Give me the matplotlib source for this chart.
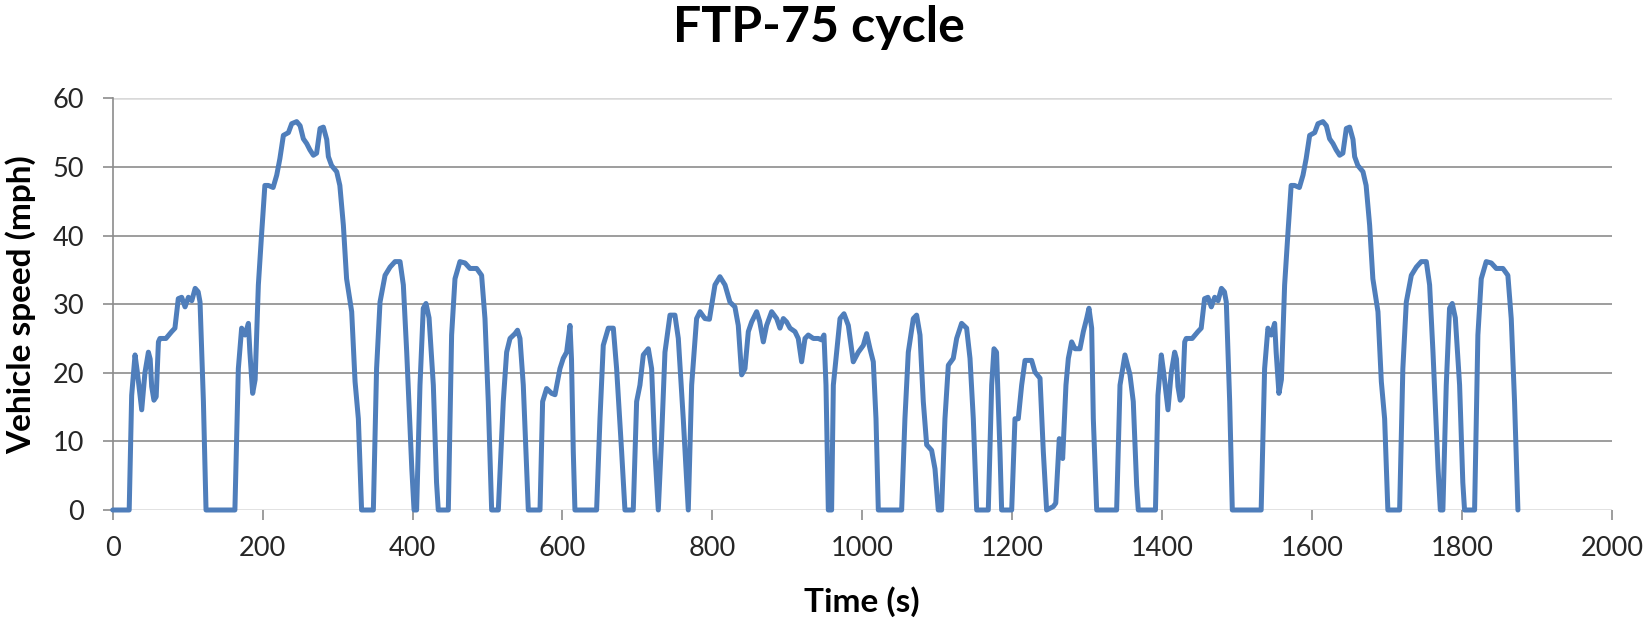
import matplotlib
matplotlib.use("Agg")
import matplotlib.pyplot as plt
import numpy as np

# ---- data (time in s, speed in mph) ----
cold_time = [0, 22, 25.3, 29.8, 33, 38.7, 43, 47.6, 50, 52, 55, 58, 61, 63, 71, 78.7, 83, 87.5, 92, 96.5,
             101, 105.5, 110, 114, 116.5, 121, 124.5, 163, 167.6, 172, 176.5, 181, 183, 186.7, 190, 194.3,
             198.8, 203, 207.5, 214, 218.8, 223, 227.7, 234.4, 238.8, 245.4, 250, 254.3, 258.8, 263, 267.7,
             272, 276.6, 281, 285.5, 287.7, 292, 298.8, 303, 307.7, 312, 318.8, 323.3, 327.7, 332, 347.7,
             352, 356.6, 363.3, 370, 376.6, 383.3, 387.7, 392.2, 399, 402, 405.4, 409.9, 414.3, 417.9, 422,
             427.7, 432, 434.3, 447.7, 452.1, 456.6, 463.2, 470, 476.6, 485.5, 492.1, 496.6, 501, 505.5]
cold_speed = [0, 0, 16.7, 22.6, 20, 14.6, 20, 23, 22, 18, 16, 16.5, 24.5, 25, 25, 26, 26.5, 30.8, 31, 29.6,
              31, 30.5, 32.3, 31.8, 30.3, 15.8, 0, 0, 20.6, 26.5, 25.5, 27.2, 23, 17, 19, 32.8,
              40.5, 47.3, 47.3, 47, 48.8, 51.2, 54.6, 55, 56.3, 56.6, 56, 54.1, 53.4, 52.5, 51.7,
              52, 55.6, 55.8, 54, 51.5, 50.2, 49.3, 47.3, 41.5, 33.7, 28.9, 18.7, 13.3, 0, 0,
              20.6, 30.3, 34.2, 35.4, 36.2, 36.2, 32.8, 23, 6, 0, 0, 18.2, 29.4, 30.1, 28,
              18.2, 4, 0, 0, 25.5, 33.7, 36.2, 36, 35.2, 35.2, 34.2, 27.9, 15.8, 0]

stab_time = [514.4, 521, 525.5, 530, 536.6, 540, 543.3, 547.7, 552.2, 554.4,
             570, 573.5, 578.8, 585.5, 590, 596.6, 601, 605.5, 610, 612, 614.4, 616.6,
             645.5, 650, 654.4, 661.1, 667.8, 672.2, 678.9, 683.3,
             694.4, 698.9, 703.3, 707.8, 714.5, 718.9, 723.3, 727.8, 732, 736.7, 743.4, 750, 754.5, 761.1, 767.8,
             772.3, 778.9, 783.4, 790, 796, 803.4, 810, 816.8, 823.4, 830, 834.5, 839, 843.4, 847.9, 852.3,
             859, 863, 867.9, 872.3, 879, 885.7, 890.1, 894.6, 899, 903.5, 910.1, 914.5, 919, 923.5, 927.9,
             934.6, 941.2, 945.5, 948.8, 951.5, 954.6, 959, 961.3, 965.7, 970.2, 975.5, 981.3, 987.9, 994.6,
             1001.3, 1005.7, 1010.2, 1014.6, 1018.2, 1021.3,
             1052.4, 1056.8, 1061.3, 1068, 1072.4, 1076.9, 1081.3, 1085.8, 1092.4, 1096.9, 1101.3, 1105.7,
             1110.2, 1114.7, 1121.3, 1125.8, 1132.4, 1139.1, 1143.6, 1148, 1152.5,
             1168, 1172.5, 1175.6, 1179, 1183.6, 1185.8,
             1199.2, 1203.6, 1208, 1212.5, 1217, 1225.8, 1230.3, 1237, 1241.4, 1245.8, 1254.7, 1258, 1262.7,
             1267.2, 1271.6, 1274.8, 1279.2, 1283.6, 1290.3, 1294.8, 1299.2, 1302.3, 1305.9, 1308.1, 1312.6,
             1339.2, 1343.7, 1350.3, 1357, 1361.4, 1365.9, 1368.1]
stab_speed = [0, 15.8, 23, 25, 25.7, 26.2, 25, 18.2, 6, 0,
              0, 15.8, 17.7, 17, 16.8, 20.6, 22.1, 23, 26.9, 22, 8.5, 0,
              0, 13.3, 24, 26.5, 26.5, 20.6, 8.5, 0,
              0, 15.8, 18.2, 22.6, 23.5, 20.6, 8.5, 0, 10, 23, 28.4, 28.4, 25, 13.3, 0,
              18.2, 27.9, 28.9, 27.9, 27.8, 32.8, 34, 32.8, 30.3, 29.6, 26.9, 19.7, 20.6, 26, 27.4,
              28.9, 27.5, 24.5, 26.9, 28.9, 27.9, 26.5, 27.9, 27.4, 26.5, 26, 25, 21.6, 25, 25.5,
              25, 25, 24.8, 25.5, 18.2, 0, 0, 18.2, 23, 27.9, 28.6, 26.9, 21.6, 23,
              24, 25.7, 23.5, 21.6, 13.3, 0,
              0, 13.3, 23, 27.9, 28.4, 25.5, 15.8, 9.5, 8.7, 6, 0, 0,
              13.3, 21.1, 22.1, 25, 27.2, 26.5, 22.1, 13.3, 0,
              0, 18.2, 23.5, 23, 8.5, 0,
              0, 13.3, 13.3, 18.2, 21.8, 21.8, 20.1, 19.2, 8.5, 0, 0.5, 1, 10.4,
              7.5, 18.2, 22.1, 24.5, 23.5, 23.5, 26, 27.9, 29.4, 26.5, 13.3, 0,
              0, 18.2, 22.6, 19.7, 15.8, 3.6, 0]

hot_time = [1391, 1394.3, 1398.8, 1402, 1407.7, 1412, 1416.6, 1419, 1421, 1424, 1427, 1430, 1432, 1440,
            1447.7, 1452, 1456.5, 1461, 1465.5, 1470, 1474.5, 1479, 1483, 1485.5, 1490, 1493.5, 1532,
            1536.6, 1541, 1545.5, 1550, 1552, 1555.7, 1559, 1563.3, 1567.8, 1572, 1576.5, 1583, 1587.8,
            1592, 1596.7, 1603.4, 1607.8, 1614.4, 1619, 1623.3, 1627.8, 1632, 1636.7, 1641, 1645.6, 1650,
            1654.5, 1656.7, 1661, 1667.8, 1672, 1676.7, 1681, 1687.8, 1692.3, 1696.7, 1701, 1716.7, 1721,
            1725.6, 1732.3, 1739, 1745.6, 1752.3, 1756.7, 1761.2, 1768, 1771, 1774.4, 1778.9, 1783.3,
            1786.9, 1791, 1796.7, 1801, 1803.3, 1816.7, 1821.1, 1825.6, 1832.2, 1839, 1845.6, 1854.5,
            1861.1, 1865.6, 1870, 1874.5]
hot_speed = [0, 16.7, 22.6, 20, 14.6, 20, 23, 22, 18, 16, 16.5, 24.5, 25, 25,
             26, 26.5, 30.8, 31, 29.6, 31, 30.5, 32.3, 31.8, 30.3, 15.8, 0, 0,
             20.6, 26.5, 25.5, 27.2, 23, 17, 19, 32.8, 40.5, 47.3, 47.3, 47, 48.8,
             51.2, 54.6, 55, 56.3, 56.6, 56, 54.1, 53.4, 52.5, 51.7, 52, 55.6, 55.8,
             54, 51.5, 50.2, 49.3, 47.3, 41.5, 33.7, 28.9, 18.7, 13.3, 0, 0, 20.6,
             30.3, 34.2, 35.4, 36.2, 36.2, 32.8, 23, 6, 0, 0, 18.2, 29.4,
             30.1, 28, 18.2, 4, 0, 0, 25.5, 33.7, 36.2, 36, 35.2, 35.2,
             34.2, 27.9, 15.8, 0]

x_ticks = [0, 200, 400, 600, 800, 1000, 1200, 1400, 1600, 1800, 2000]
y_ticks = [0, 10, 20, 30, 40, 50, 60]

title = "FTP-75 cycle"
xlabel = "Time (s)"
ylabel = "Vehicle speed (mph)"

# ---- figure ----
W, H = 1649, 625
fig = plt.figure(figsize=(W / 100, H / 100), dpi=100)
ax = fig.add_axes([112.7 / W, 1 - 510 / H, (1612 - 112.7) / W, (510 - 98.3) / H])

FONT = ["Lato", "DejaVu Sans"]
line_color = "#4F7EBB"
grid_dark = "#8C8C8C"
grid_light = "#D9D9D9"

time = cold_time + stab_time + hot_time
speed = cold_speed + stab_speed + hot_speed
ax.plot(time, speed, color=line_color, lw=3.6, solid_joinstyle="round",
        solid_capstyle="round", zorder=3, clip_on=False)

ax.set_xlim(x_ticks[0], x_ticks[-1])
ax.set_ylim(y_ticks[0], y_ticks[-1])
ax.set_xticks(x_ticks)
ax.set_yticks(y_ticks)
ax.set_xticklabels([str(v) for v in x_ticks], fontfamily=FONT, fontsize=19.5, color="#262626")
ax.set_yticklabels([str(v) for v in y_ticks], fontfamily=FONT, fontsize=19.5, color="#262626")

ax.yaxis.grid(True, color=grid_dark, lw=1.2, zorder=1)
gl = ax.get_ygridlines()
for val, line in zip(y_ticks, gl):
    if val in (y_ticks[0], y_ticks[-1]):
        line.set_color(grid_light)
        line.set_linewidth(1.8)
ax.set_axisbelow(True)

for s in ("top", "right", "bottom"):
    ax.spines[s].set_visible(False)
ax.spines["left"].set_color(grid_dark)
ax.spines["left"].set_linewidth(1.2)

ax.tick_params(axis="x", direction="out", length=7.5, width=1.2, color=grid_dark, pad=11)
ax.tick_params(axis="y", direction="out", length=7.5, width=1.2, color=grid_dark, pad=13)

fig.text(819 / W, 1 - 42 / H, title, ha="center", va="baseline",
         fontfamily=FONT, fontweight="bold", fontsize=36)
fig.text(862 / W, 1 - 612 / H, xlabel, ha="center", va="baseline",
         fontfamily=FONT, fontweight="bold", fontsize=24)
fig.text(21 / W, 1 - 305 / H, ylabel, ha="center", va="center", rotation=90,
         fontfamily=FONT, fontweight="bold", fontsize=24)

fig.savefig("out.png", dpi=100, facecolor="white")
